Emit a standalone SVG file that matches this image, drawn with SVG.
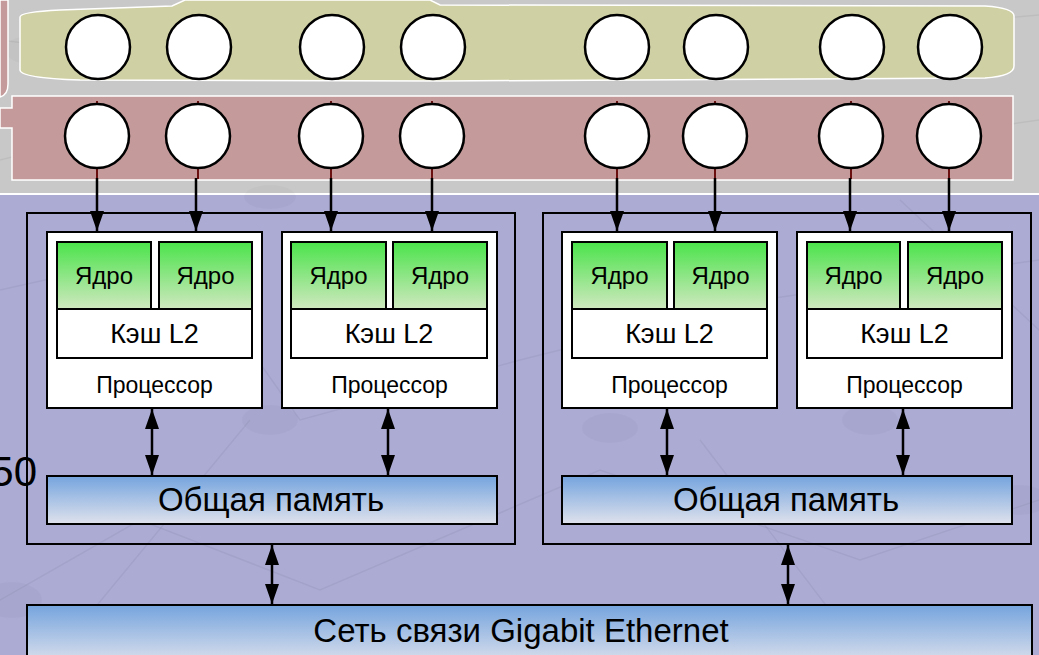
<svg xmlns="http://www.w3.org/2000/svg" width="1039" height="655" viewBox="0 0 1039 655">
<style>
.t{font-family:"Liberation Sans",Arial,sans-serif;fill:#000;text-anchor:middle}
.core-t{font-size:24px}
.cache-t{font-size:27px}
.proc-t{font-size:23px}
.mem-t{font-size:33px}
.box{fill:none;stroke:#000;stroke-width:2}
.proc{fill:#fff;stroke:#000;stroke-width:2}
.core{fill:url(#gCore);stroke:#000;stroke-width:2}
.cache{fill:#fff;stroke:#000;stroke-width:2}
.mem{fill:url(#gMem);stroke:#000;stroke-width:2}
.node{fill:#fff;stroke:#000;stroke-width:2.5}
.ln{stroke:#000;stroke-width:2.5;fill:none}
.stub{stroke:#6a1010;stroke-width:2;fill:none}
.bgl{stroke:#000;stroke-opacity:0.05;stroke-width:1.5;fill:none}
.blob{fill:#000;fill-opacity:0.025}
</style>
<defs>
<linearGradient id="gCore" x1="0" y1="0" x2="0" y2="1">
<stop offset="0" stop-color="#4be34b"/>
<stop offset="1" stop-color="#cfe8bf"/>
</linearGradient>
<linearGradient id="gMem" x1="0" y1="0" x2="0" y2="1">
<stop offset="0" stop-color="#75a4de"/>
<stop offset="1" stop-color="#dfe2ec"/>
</linearGradient>
<marker id="ah" viewBox="0 0 20 14" refX="20" refY="7" markerWidth="20" markerHeight="14" markerUnits="userSpaceOnUse" orient="auto">
<path d="M0,0 L20,7 L0,14 Z" fill="#000"/>
</marker>
<marker id="ahs" viewBox="0 0 20 14" refX="0" refY="7" markerWidth="20" markerHeight="14" markerUnits="userSpaceOnUse" orient="auto">
<path d="M20,0 L0,7 L20,14 Z" fill="#000"/>
</marker>
</defs>

<!-- background -->
<rect x="0" y="0" width="1039" height="655" fill="#acabd4"/>
<rect x="0" y="0" width="1039" height="194" fill="#c8c8c8"/>
<line x1="0" y1="194" x2="1039" y2="194" stroke="#fff" stroke-width="2"/>
<g id="bg-pattern">
<path class="bgl" d="M0,40 L120,55 L260,20 L520,10 L700,45 L1039,15"/>
<path class="bgl" d="M0,160 L200,110 L420,150 L640,100 L900,140 L1039,120"/>
<path class="bgl" d="M0,290 L180,250 L300,420 L520,360 L760,300 L1039,260"/>
<path class="bgl" d="M0,600 L140,520 L320,590 L600,470 L860,560 L1039,500"/>
<path class="bgl" d="M250,420 L60,650 M700,440 L860,650 M900,200 L1039,330"/>
<ellipse class="blob" cx="270" cy="420" rx="28" ry="15"/>
<ellipse class="blob" cx="610" cy="428" rx="28" ry="15"/>
<ellipse class="blob" cx="12" cy="600" rx="30" ry="18"/>
<ellipse class="blob" cx="870" cy="420" rx="28" ry="15"/>
<ellipse class="blob" cx="1020" cy="500" rx="28" ry="15"/>
<ellipse class="blob" cx="270" cy="197" rx="26" ry="12"/>
<ellipse class="blob" cx="30" cy="50" rx="25" ry="14"/>
</g>

<!-- layers -->
<g id="layer-left-strip">
<path d="M0,0 L8,0 L8,84 Q8,95 0,97 Z" fill="#c49a9a" stroke="#fff" stroke-width="1.5"/>
</g>
<g id="layer-yellow">
<path d="M20,17 Q20,12 60,10 L172,6 L185,0 L430,0 L440,5 L985,6 Q1014,8 1014,16 L1014,66 Q1014,76 985,78 L440,81 L80,80 Q20,78 20,70 Z" fill="#d0d0a5" stroke="#fff" stroke-width="1.5"/>
</g>
<g id="layer-red">
<path d="M12,96 L1013,96 L1013,180 L12,180 L12,128 L0,128 L0,108 L12,108 Z" fill="#c49a9a" stroke="#fff" stroke-width="1.5"/>
</g>

<!-- connectors -->
<g id="connectors">
<g class="stub">
<line x1="97" y1="101" x2="97" y2="105"/><line x1="198" y1="101" x2="198" y2="105"/>
<line x1="331" y1="101" x2="331" y2="105"/><line x1="432" y1="101" x2="432" y2="105"/>
<line x1="617" y1="101" x2="617" y2="105"/><line x1="715" y1="101" x2="715" y2="105"/>
<line x1="851" y1="101" x2="851" y2="105"/><line x1="949" y1="101" x2="949" y2="105"/>
<line x1="97" y1="167" x2="97" y2="179"/><line x1="198" y1="167" x2="198" y2="179"/>
<line x1="331" y1="167" x2="331" y2="179"/><line x1="432" y1="167" x2="432" y2="179"/>
<line x1="617" y1="167" x2="617" y2="179"/><line x1="715" y1="167" x2="715" y2="179"/>
<line x1="851" y1="167" x2="851" y2="179"/><line x1="949" y1="167" x2="949" y2="179"/>
</g>
<g class="ln">
<line x1="97" y1="178" x2="97" y2="231" marker-end="url(#ah)"/>
<line x1="196" y1="178" x2="196" y2="231" marker-end="url(#ah)"/>
<line x1="331" y1="178" x2="331" y2="231" marker-end="url(#ah)"/>
<line x1="432" y1="178" x2="432" y2="231" marker-end="url(#ah)"/>
<line x1="617" y1="178" x2="617" y2="231" marker-end="url(#ah)"/>
<line x1="715" y1="178" x2="715" y2="231" marker-end="url(#ah)"/>
<line x1="850" y1="178" x2="850" y2="231" marker-end="url(#ah)"/>
<line x1="949" y1="178" x2="949" y2="231" marker-end="url(#ah)"/>
<line x1="152" y1="409" x2="152" y2="475" marker-start="url(#ahs)" marker-end="url(#ah)"/>
<line x1="388" y1="409" x2="388" y2="475" marker-start="url(#ahs)" marker-end="url(#ah)"/>
<line x1="667" y1="409" x2="667" y2="475" marker-start="url(#ahs)" marker-end="url(#ah)"/>
<line x1="903" y1="409" x2="903" y2="475" marker-start="url(#ahs)" marker-end="url(#ah)"/>
<line x1="272" y1="545" x2="272" y2="604" marker-start="url(#ahs)" marker-end="url(#ah)"/>
<line x1="788" y1="545" x2="788" y2="604" marker-start="url(#ahs)" marker-end="url(#ah)"/>
</g>
</g>

<!-- circles -->
<g id="nodes-top">
<circle class="node" cx="98" cy="47" r="32"/><circle class="node" cx="199" cy="47" r="32"/>
<circle class="node" cx="332" cy="47" r="32"/><circle class="node" cx="433" cy="47" r="32"/>
<circle class="node" cx="617" cy="47" r="32"/><circle class="node" cx="716" cy="47" r="32"/>
<circle class="node" cx="852" cy="47" r="32"/><circle class="node" cx="950" cy="47" r="32"/>
</g>
<g id="nodes-bottom">
<circle class="node" cx="97" cy="136" r="32"/><circle class="node" cx="198" cy="136" r="32"/>
<circle class="node" cx="331" cy="136" r="32"/><circle class="node" cx="432" cy="136" r="32"/>
<circle class="node" cx="617" cy="136" r="32"/><circle class="node" cx="715" cy="136" r="32"/>
<circle class="node" cx="851" cy="136" r="32"/><circle class="node" cx="949" cy="136" r="32"/>
</g>

<text class="t" x="37" y="486" style="text-anchor:end;font-size:42px">50</text>

<!-- left computing node -->
<g id="node-left">
<rect class="box" x="27" y="213" width="488" height="331"/>
<g id="proc1">
<rect class="proc" x="47" y="232" width="215" height="176"/>
<rect class="core" x="57" y="242" width="94" height="67"/>
<rect class="core" x="159" y="242" width="93" height="67"/>
<rect class="cache" x="57" y="309" width="195" height="49"/>
<text class="t core-t" x="104" y="284">Ядро</text>
<text class="t core-t" x="205.5" y="284">Ядро</text>
<text class="t cache-t" x="154.5" y="343">Кэш L2</text>
<text class="t proc-t" x="154.5" y="393">Процессор</text>
</g>
<g id="proc2">
<rect class="proc" x="282" y="232" width="215" height="176"/>
<rect class="core" x="291" y="242" width="95" height="67"/>
<rect class="core" x="393" y="242" width="94" height="67"/>
<rect class="cache" x="291" y="309" width="196" height="49"/>
<text class="t core-t" x="338.5" y="284">Ядро</text>
<text class="t core-t" x="440" y="284">Ядро</text>
<text class="t cache-t" x="389" y="343">Кэш L2</text>
<text class="t proc-t" x="389.5" y="393">Процессор</text>
</g>
<g id="mem1">
<rect class="mem" x="47" y="476" width="450" height="48"/>
<text class="t mem-t" x="271" y="511">Общая память</text>
</g>
</g>

<!-- right computing node -->
<g id="node-right">
<rect class="box" x="543" y="213" width="488" height="331"/>
<g id="proc3">
<rect class="proc" x="562" y="232" width="215" height="176"/>
<rect class="core" x="572" y="242" width="95" height="67"/>
<rect class="core" x="674" y="242" width="93" height="67"/>
<rect class="cache" x="572" y="309" width="195" height="49"/>
<text class="t core-t" x="619.5" y="284">Ядро</text>
<text class="t core-t" x="720.5" y="284">Ядро</text>
<text class="t cache-t" x="669.5" y="343">Кэш L2</text>
<text class="t proc-t" x="669.5" y="393">Процессор</text>
</g>
<g id="proc4">
<rect class="proc" x="797" y="232" width="215" height="176"/>
<rect class="core" x="807" y="242" width="93" height="67"/>
<rect class="core" x="908" y="242" width="94" height="67"/>
<rect class="cache" x="807" y="309" width="195" height="49"/>
<text class="t core-t" x="853.5" y="284">Ядро</text>
<text class="t core-t" x="955" y="284">Ядро</text>
<text class="t cache-t" x="904.5" y="343">Кэш L2</text>
<text class="t proc-t" x="904.5" y="393">Процессор</text>
</g>
<g id="mem2">
<rect class="mem" x="562" y="476" width="450" height="48"/>
<text class="t mem-t" x="786" y="511">Общая память</text>
</g>
</g>

<g id="network">
<rect class="mem" x="27" y="605" width="1005" height="60"/>
<text class="t" x="521" y="642" font-size="33">Сеть связи Gigabit Ethernet</text>
</g>
</svg>
